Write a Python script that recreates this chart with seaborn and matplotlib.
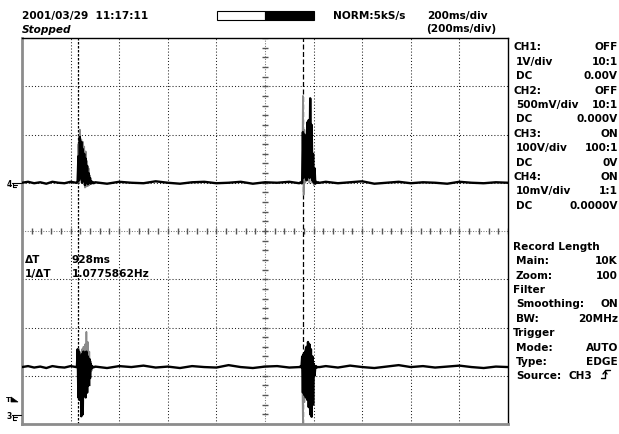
import pandas as pd
import matplotlib
matplotlib.use('Agg')
import matplotlib.pyplot as plt
from matplotlib.lines import Line2D
from matplotlib.patches import Rectangle, Polygon
import seaborn as sns

# --- sample times (ms), 200 ms/div ---
t_pre = [0, 25, 50, 75, 100, 125, 150, 175, 200, 223]
t_b1 = [226, 229, 232, 235, 238, 241, 244, 247, 250, 253, 256, 259, 262,
        265, 268, 271, 274, 277, 280, 283, 286, 289, 292, 295, 298]
t_mid = [301, 350, 400, 450, 500, 550, 600, 650, 700, 750, 800, 850, 900,
         950, 1000, 1050, 1100, 1141]
t_b2 = [1144, 1147, 1150, 1153, 1156, 1159, 1162, 1165, 1168, 1171, 1174,
        1177, 1180, 1183, 1186, 1189, 1192, 1195, 1198, 1201, 1204, 1207,
        1210, 1213, 1216, 1219, 1222]
t_post = [1225, 1250, 1300, 1350, 1400, 1450, 1500, 1550, 1600, 1650, 1700,
          1750, 1800, 1850, 1900, 1950, 2000]

# --- CH4 (upper trace), levels in divisions ---
ch4_pre = [1.00, 1.02, 0.99, 1.01, 0.98, 1.02, 1.00, 0.99, 1.02, 1.00]
ch4_b1 = [1.00, 1.02, 1.55, 1.05, 1.95, 1.10, 1.85, 1.00, 1.70, 1.05, 1.60,
          0.95, 1.50, 1.00, 1.35, 0.97, 1.20, 1.00, 1.10, 0.98, 1.03, 1.00,
          1.01, 0.99, 1.00]
ch4_mid = [1.01, 0.98, 1.02, 1.00, 0.99, 1.03, 1.00, 0.98, 1.01, 1.02, 0.99,
           1.00, 1.02, 0.98, 1.01, 1.00, 1.02, 0.99]
ch4_b2 = [1.00, 1.01, 0.99, 1.00, 2.05, 1.10, 2.00, 1.20, 1.95, 1.05, 2.25,
          1.15, 2.30, 1.10, 2.75, 1.20, 2.20, 1.05, 1.60, 1.00, 1.30, 0.98,
          1.02, 1.00, 1.00, 1.01, 1.00]
ch4_post = [1.00, 1.02, 0.99, 1.01, 1.03, 0.98, 1.00, 1.02, 0.99, 1.01, 1.00,
            0.98, 1.02, 1.00, 0.99, 1.01, 1.00]
ch4_g1 = [1.00, 1.05, 1.80, 1.00, 2.10, 1.20, 1.90, 1.00, 1.85, 1.10, 1.75,
          0.90, 1.65, 0.92, 1.45, 0.93, 1.30, 0.95, 1.15, 1.00, 1.02, 0.98,
          1.00, 1.00, 1.00]
ch4_g2 = [1.00, 1.00, 1.00, 0.98, 2.80, 0.75, 2.10, 1.00, 2.00, 1.10, 2.20,
          1.05, 2.25, 1.00, 2.40, 1.10, 2.10, 1.00, 1.55, 0.95, 1.20, 1.00,
          1.00, 1.00, 1.00, 1.00, 1.00]

# --- CH3 (lower trace) ---
ch3_pre = [-2.82, -2.80, -2.83, -2.81, -2.84, -2.80, -2.82, -2.83, -2.80, -2.82]
ch3_b1 = [-2.82, -2.45, -3.45, -2.50, -3.50, -2.60, -3.84, -2.55, -3.80,
          -2.50, -3.40, -2.55, -3.45, -2.50, -3.35, -2.60, -3.20, -2.65,
          -3.05, -2.75, -2.85, -2.80, -2.83, -2.82, -2.82]
ch3_mid = [-2.81, -2.84, -2.80, -2.82, -2.79, -2.83, -2.81, -2.84, -2.80,
           -2.82, -2.83, -2.78, -2.82, -2.84, -2.81, -2.80, -2.83, -2.82]
ch3_b2 = [-2.82, -2.80, -2.83, -2.60, -3.35, -2.55, -3.40, -2.50, -3.45,
          -2.40, -3.50, -2.30, -3.65, -2.35, -3.80, -2.45, -3.85, -2.60,
          -3.60, -2.75, -3.00, -2.82, -2.80, -2.83, -2.82, -2.82, -2.82]
ch3_post = [-2.82, -2.80, -2.83, -2.79, -2.82, -2.84, -2.81, -2.78, -2.82,
            -2.80, -2.83, -2.81, -2.79, -2.82, -2.84, -2.81, -2.82]
ch3_g1 = [-2.82, -2.60, -3.30, -2.45, -3.50, -2.55, -3.60, -2.45, -3.55,
          -2.40, -3.30, -2.35, -3.10, -2.09, -2.95, -2.30, -3.10, -2.50,
          -3.20, -2.70, -2.90, -2.82, -2.82, -2.82, -2.82]
ch3_g2 = [-2.82, -2.82, -2.82, -2.82, -4.00, -2.60, -3.55, -2.45, -3.40,
          -2.45, -3.35, -2.40, -3.50, -2.40, -3.60, -2.50, -3.70, -2.65,
          -3.40, -2.80, -2.90, -2.82, -2.82, -2.82, -2.82, -2.82, -2.82]

cursors = [230, 1158]  # ms, delta = 928 ms

# --- screen text ---
header_date = "2001/03/29  11:17:11"
header_state = "Stopped"
header_mode = "NORM:5kS/s"
header_tdiv = "200ms/div"
header_zdiv = "(200ms/div)"
delta_rows = [("\u0394T", "928ms"), ("1/\u0394T", "1.0775862Hz")]

channel_rows = [
    ("CH1:", "OFF", False), ("1V/div", "10:1", True), ("DC", "0.00V", True),
    ("CH2:", "OFF", False), ("500mV/div", "10:1", True), ("DC", "0.000V", True),
    ("CH3:", "ON", False), ("100V/div", "100:1", True), ("DC", "0V", True),
    ("CH4:", "ON", False), ("10mV/div", "1:1", True), ("DC", "0.0000V", True),
]
setup_rows = [
    ("Record Length", "", False), ("Main:", "10K", True), ("Zoom:", "100", True),
    ("Filter", "", False), ("Smoothing:", "ON", True), ("BW:", "20MHz", True),
    ("Trigger", "", False), ("Mode:", "AUTO", True), ("Type:", "EDGE", True),
    ("Source:", "CH3", True),
]

# --- build tables ---
t_all = t_pre + t_b1 + t_mid + t_b2 + t_post
ch4 = pd.DataFrame({'t': t_all, 'v': ch4_pre + ch4_b1 + ch4_mid + ch4_b2 + ch4_post})
ch3 = pd.DataFrame({'t': t_all, 'v': ch3_pre + ch3_b1 + ch3_mid + ch3_b2 + ch3_post})
gray = pd.DataFrame({
    't': t_b1 + t_b2 + t_b1 + t_b2,
    'v': ch4_g1 + ch4_g2 + ch3_g1 + ch3_g2,
    'seg': [0] * len(t_b1) + [1] * len(t_b2) + [2] * len(t_b1) + [3] * len(t_b2),
})

sns.set_style('white')
plt.rcParams['font.family'] = ['DejaVu Sans']
plt.rcParams['font.size'] = 7.6
plt.rcParams['font.weight'] = 'bold'
plt.rcParams['text.color'] = 'black'

W, H = 619, 434
fig = plt.figure(figsize=(W / 100, H / 100), dpi=100)
ax = fig.add_axes([22 / W, 1 - 424 / H, 486 / W, 386 / H])


def fx(x):
    return x / W


def fy(y):
    return 1 - y / H


# grid
grid_kw = dict(color='#222222', lw=0.75, ls=(0, (1, 2)), zorder=1)
for i in range(1, 10):
    if i != 5:
        ax.axvline(i * 200, **grid_kw)
for j in [-3, -2, -1, 1, 2, 3]:
    ax.axhline(j, **grid_kw)
ax.axvline(1000, color='#777777', lw=0.75, ls=(0, (1, 1.5)), zorder=1)
ax.axhline(0, color='#777777', lw=0.75, ls=(0, (1, 1.5)), zorder=1)
ax.plot([i * 40 for i in range(51)], [0] * 51, ls='none', marker='|',
        ms=5, mew=1.0, color='#555555', zorder=1)
ax.plot([1000] * 41, [-4 + i * 0.2 for i in range(41)], ls='none', marker='_',
        ms=5, mew=1.0, color='#555555', zorder=1)

# cursors
ax.axvline(cursors[0], color='black', lw=0.9, ls=(0, (2, 1.2)), zorder=2)
ax.axvline(cursors[1], color='black', lw=0.9, ls=(0, (4, 2)), zorder=2)

# traces
sns.lineplot(data=gray, x='t', y='v', units='seg', estimator=None, sort=False,
             color='#8a8a8a', lw=1.2, ax=ax, zorder=3)
sns.lineplot(data=ch4, x='t', y='v', estimator=None, sort=False,
             color='black', lw=1.7, ax=ax, zorder=4)
sns.lineplot(data=ch3, x='t', y='v', estimator=None, sort=False,
             color='black', lw=1.7, ax=ax, zorder=4)

ax.set_xlim(0, 2000)
ax.set_ylim(-4, 4)
ax.set_xticks([])
ax.set_yticks([])
ax.set_xlabel('')
ax.set_ylabel('')
for side in ['top', 'right']:
    ax.spines[side].set_color('black')
    ax.spines[side].set_linewidth(1.0)
for side in ['left', 'bottom']:
    ax.spines[side].set_color('#8c8c8c')
    ax.spines[side].set_linewidth(2.0)

# delta-T readout
for k, (lab, val) in enumerate(delta_rows):
    yb = 263 + k * 14
    fig.text(fx(25), fy(yb), lab, va='baseline', ha='left')
    fig.text(fx(72), fy(yb), val, va='baseline', ha='left')

# header
fig.text(fx(22), fy(19), header_date, va='baseline', ha='left')
fig.text(fx(22), fy(33), header_state, va='baseline', ha='left', style='italic')
fig.text(fx(333), fy(19), header_mode, va='baseline', ha='left')
fig.text(fx(427), fy(19), header_tdiv, va='baseline', ha='left')
fig.text(fx(426), fy(32), header_zdiv, va='baseline', ha='left')
fig.add_artist(Rectangle((fx(216.5), fy(19.5)), (265 - 216.5) / W, 8 / H,
                         transform=fig.transFigure, fc='white', ec='black', lw=0.8))
fig.add_artist(Rectangle((fx(265), fy(19.5)), (313.5 - 265) / W, 8 / H,
                         transform=fig.transFigure, fc='black', ec='black', lw=0.8))

# side panel
for rows, y0 in [(channel_rows, 50.3), (setup_rows, 249.7)]:
    for k, (lab, val, indent) in enumerate(rows):
        yb = y0 + k * 14.42
        fig.text(fx(516 if indent else 513), fy(yb), lab, va='baseline', ha='left')
        if lab == "Source:":
            fig.text(fx(592), fy(yb), val, va='baseline', ha='right')
        elif val:
            fig.text(fx(618), fy(yb), val, va='baseline', ha='right')

# rising edge trigger symbol
fig.add_artist(Line2D([fx(601), fx(605), fx(605), fx(610)],
                      [fy(378), fy(378), fy(370), fy(370)],
                      transform=fig.transFigure, color='black', lw=1.0))
fig.add_artist(Line2D([fx(603), fx(605), fx(607)], [fy(374), fy(371.5), fy(374)],
                      transform=fig.transFigure, color='black', lw=1.0))


# ground markers and trigger level marker on the left edge
def ground(y, label):
    fig.text(fx(9), fy(y + 4.5), label, va='baseline', ha='center', fontsize=5.5)
    for xs, ys in [([11.5, 21], [y, y]), ([13, 13], [y, y + 5]),
                   ([13, 17], [y + 2.5, y + 2.5]), ([13, 16], [y + 5, y + 5])]:
        fig.add_artist(Line2D([fx(v) for v in xs], [fy(v) for v in ys],
                              transform=fig.transFigure, color='black', lw=0.8))


ground(182.5, '4')
ground(414.5, '3')
fig.text(fx(8), fy(402), 'T', va='baseline', ha='center', fontsize=5)
fig.add_artist(Polygon([(fx(11), fy(397)), (fx(18), fy(402)), (fx(11), fy(402))],
                       closed=True, transform=fig.transFigure, fc='black', ec='black', lw=0.5))

fig.savefig('out.png', dpi=100)
